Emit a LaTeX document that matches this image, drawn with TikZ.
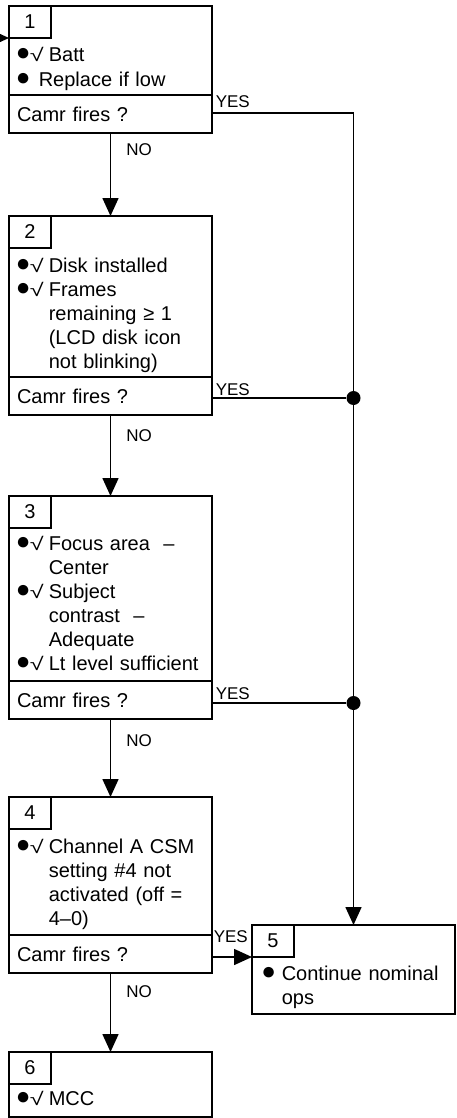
\documentclass[tikz,border=0pt]{standalone}
\usepackage{graphicx}
\usepackage{fontspec}
\setmainfont{Liberation Sans}
\usetikzlibrary{arrows.meta}

% bullet with a small check, and a plain bullet
\newcommand{\bul}{\makebox[14pt][l]{\fontsize{18}{18}\selectfont\raisebox{1pt}{\scalebox{1.35}{●}}}}
\newcommand{\bulchk}{\bul{\fontsize{18}{18}\selectfont\scalebox{1.4}[1]{√}}}

\begin{document}
\begin{tikzpicture}[x=1pt,y=-1pt,
  every path/.style={line width=1.6pt},
  body/.style={draw, anchor=north west, outer sep=0pt, inner sep=0pt, minimum width=203pt},
  cell/.style={draw, anchor=north west, outer sep=0pt, inner sep=0pt, minimum width=42pt, minimum height=32pt, font=\fontsize{20}{24}\selectfont},
  ques/.style={draw, anchor=north west, outer sep=0pt, inner xsep=8pt, inner ysep=0pt, text width=187pt, minimum height=38pt, align=left, font=\fontsize{20}{24}\selectfont},
  txt/.style={anchor=base west, inner sep=0pt, text width=165pt, align=left, font=\fontsize{20}{24}\selectfont},
  mk/.style={anchor=base west, inner sep=0pt, font=\fontsize{20}{24}\selectfont},
  lbl/.style={anchor=base west, inner sep=0pt, font=\fontsize{17}{20}\selectfont},
  flow/.style={-{Triangle[length=18pt,width=16pt]}},
  dot/.style={circle, fill, draw=none, inner sep=0pt, minimum size=14pt},
]
\useasboundingbox (0,0) rectangle (456,1118);

% ---- step 1
\node[body, minimum height=89pt] (b1) at (9,6) {};
\node[cell] (c1) at (b1.north west) {1};
\node[ques] (q1) at (b1.south west) {Camr fires ?};
\node[mk] (m1a) at (15,62) {\bulchk};
\node[txt] (t1a) at (48,62) {Batt};
\node[mk] (m1b) at (15,87) {\bul};
\node[txt] (t1b) at (38,87) {Replace if low};

% ---- step 2
\node[body, minimum height=161pt] (b2) at (9,216) {};
\node[cell] (c2) at (b2.north west) {2};
\node[ques] (q2) at (b2.south west) {Camr fires ?};
\node[mk] (m2a) at (15,272) {\bulchk};
\node[txt] (t2a) at (48,272) {Disk installed};
\node[mk] (m2b) at (15,296) {\bulchk};
\node[txt] (t2b) at (48,296) {Frames\\remaining ≥ 1\\(LCD disk icon\\not blinking)};

% ---- step 3
\node[body, minimum height=185pt] (b3) at (9,496) {};
\node[cell] (c3) at (b3.north west) {3};
\node[ques] (q3) at (b3.south west) {Camr fires ?};
\node[mk] (m3a) at (15,550) {\bulchk};
\node[txt] (t3a) at (48,550) {Focus area\ \ –\\Center};
\node[mk] (m3b) at (15,598) {\bulchk};
\node[txt] (t3b) at (48,598) {Subject\\contrast\ \ –\\Adequate};
\node[mk] (m3c) at (15,670) {\bulchk};
\node[txt] (t3c) at (48,670) {Lt level sufficient};

% ---- step 4
\node[body, minimum height=138pt] (b4) at (9,797) {};
\node[cell] (c4) at (b4.north west) {4};
\node[ques] (q4) at (b4.south west) {Camr fires ?};
\node[mk] (m4a) at (15,853) {\bulchk};
\node[txt] (t4a) at (48,853) {Channel A CSM\\setting \#4 not\\activated (off =\\4–0)};

% ---- step 5
\node[body, minimum height=89pt] (b5) at (252,925) {};
\node[cell] (c5) at (b5.north west) {5};
\node[mk] (m5a) at (260.5,980) {\bul};
\node[txt] (t5a) at (281,980) {Continue nominal\\ops};

% ---- step 6
\node[body, minimum height=65pt] (b6) at (9,1052) {};
\node[cell] (c6) at (b6.north west) {6};
\node[mk] (m6a) at (15,1105) {\bulchk};
\node[txt] (t6a) at (48,1105) {MCC};

% ---- NO branches
\draw[flow] (q1.south) -- (b2.north);
\draw[flow] (q2.south) -- (b3.north);
\draw[flow] (q3.south) -- (b4.north);
\draw[flow] (q4.south) -- (b6.north);
\node[lbl] (no1) at ([xshift=15pt,yshift=-23pt]q1.south) {NO};
\node[lbl] (no2) at ([xshift=15pt,yshift=-26pt]q2.south) {NO};
\node[lbl] (no3) at ([xshift=15pt,yshift=-27pt]q3.south) {NO};
\node[lbl] (no4) at ([xshift=15pt,yshift=-24pt]q4.south) {NO};

% ---- YES branches
\coordinate (entry) at (-20,38);
\draw[flow] (entry) -- (c1.south west);
\draw[flow] ([yshift=1pt]q1.east) -| (b5.north);
\node[dot] (d2) at ([yshift=-2pt]q2.east -| b5.north) {};
\node[dot] (d3) at ([yshift=-3pt]q3.east -| b5.north) {};
\draw ([yshift=-2pt]q2.east) -- (d2);
\draw ([yshift=-3pt]q3.east) -- (d3);
\draw[flow] ([yshift=-3pt]q4.east) -- ([yshift=-3pt]q4.east -| b5.west);
\node[lbl] (yes1) at ([xshift=3pt,yshift=6pt]q1.east) {YES};
\node[lbl] (yes2) at ([xshift=3pt,yshift=1pt]q2.east) {YES};
\node[lbl] (yes3) at ([xshift=3pt,yshift=1pt]q3.east) {YES};
\node[lbl] (yes4) at ([xshift=1pt,yshift=12pt]q4.east) {YES};
\end{tikzpicture}
\end{document}
